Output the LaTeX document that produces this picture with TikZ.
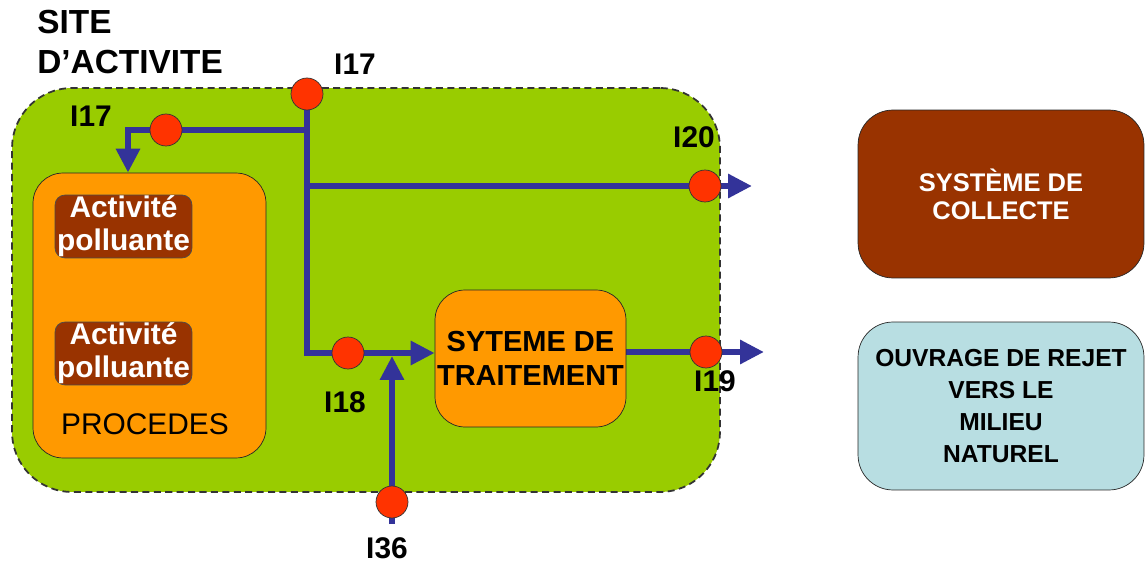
\documentclass[tikz,border=0pt]{standalone}
\usepackage{fontspec}
\setmainfont{Liberation Sans}
\usepackage{xcolor}
\usetikzlibrary{arrows.meta,positioning,calc}
\definecolor{sitegreen}{HTML}{99CC00}
\definecolor{procorange}{HTML}{FF9900}
\definecolor{actbrown}{HTML}{993300}
\definecolor{rejetblue}{HTML}{B8DEE2}
\definecolor{ptred}{HTML}{FF3300}
\definecolor{flowblue}{HTML}{333399}
\pgfdeclarelayer{back}
\pgfdeclarelayer{flowlayer}
\pgfsetlayers{back,flowlayer,main}

\begin{document}
\begin{tikzpicture}[x=0.02cm, y=-0.02cm,
  site/.style={draw=black!80, line width=1pt, dash pattern=on 4pt off 2.5pt, fill=sitegreen,
               rounded corners=12mm, minimum width=14.16cm, minimum height=8.08cm},
  box/.style={draw=black!85, rounded corners=6mm, fill=procorange,
              inner sep=0pt, align=center},
  act/.style={draw=black!70, rounded corners=2mm, fill=actbrown, text=white,
              inner sep=0pt, align=center, minimum width=2.74cm, minimum height=1.26cm,
              font=\fontsize{17}{18.8}\selectfont\bfseries},
  mpt/.style={circle, draw=black!80, fill=ptred, minimum size=6.4mm, inner sep=0pt},
  lbl/.style={inner sep=0pt, font=\fontsize{17}{20}\selectfont\bfseries},
  flow/.style={draw=flowblue, line width=1.2mm, -{Triangle[length=4.8mm,width=4.6mm]}}]
\useasboundingbox (0,0) rectangle (1146,564);
% --- site d'activite ---
\begin{pgfonlayer}{back}
\node[site] (site) at (366,290) {};
\end{pgfonlayer}
\node[lbl, anchor=north west, align=left, font=\fontsize{19}{22.7}\selectfont\bfseries]
  (title) at (37,10) {SITE\\D’ACTIVITE};
% --- procedes ---
\node[box, minimum width=4.66cm, minimum height=5.7cm] (proc) at (149.5,315.5) {};
\node[inner sep=0pt, font=\fontsize{17}{20}\selectfont] (proclbl) at (145,424) {PROCEDES};
\node[act] (act1) at (123.5,226.5) {Activité\\polluante};
\node[act] (act2) at (123.5,353.5) {Activité\\polluante};
% --- traitement ---
\node[box, minimum width=3.82cm, minimum height=2.74cm,
      font=\fontsize{16.5}{19.5}\selectfont\bfseries] (trait) at (530.5,358.5)
  {SYTEME DE\\TRAITEMENT};
% --- right column ---
\node[box, fill=actbrown, text=white, rounded corners=7mm, minimum width=5.72cm,
      minimum height=3.36cm, font=\fontsize{14.5}{16}\selectfont\bfseries]
  (coll) at (1001,194) {SYSTÈME DE\\COLLECTE};
\node[box, fill=rejetblue, rounded corners=7mm, minimum width=5.72cm,
      minimum height=3.36cm, font=\fontsize{14}{18.2}\selectfont\bfseries]
  (rejet) at (1001,406) {OUVRAGE DE REJET\\VERS LE\\MILIEU\\NATUREL};
% --- measuring points ---
\node[mpt] (t17) at (307,94) {};
\node[mpt] (i17) at (166,130) {};
\node[mpt] (i20) at (705,186) {};
\node[mpt] (i18) at (348,353) {};
\node[mpt] (i19) at (706,352) {};
\node[mpt] (i36) at (392,502) {};
\node[lbl] (l17a) at (355,64) {I17};
\node[lbl] (l17b) at (91,116) {I17};
\node[lbl] (l20) at (694,137) {I20};
\node[lbl] (l18) at (345,402) {I18};
\node[lbl] (l19) at (715,381) {I19};
\node[lbl] (l36) at (387,548) {I36};
\coordinate (out20) at (752,186);
\coordinate (out19) at (764,352);
% --- flows ---
\begin{pgfonlayer}{flowlayer}
\draw[flow] (t17.center) |- (i18.center) -- (i18 -| trait.west);
\draw[flow] (t17 |- i20) -- (out20);
\draw[flow] (t17 |- i17) -- (i17.center) -| ([xshift=-4.3mm]proc.north);
\draw[flow] (trait.east |- i19) -- (i19.center) -- (out19);
\draw[flow] ($(i36.center)+(0,22)$) -- ($(i36 |- i18)+(0,3)$);
\end{pgfonlayer}
\end{tikzpicture}
\end{document}
